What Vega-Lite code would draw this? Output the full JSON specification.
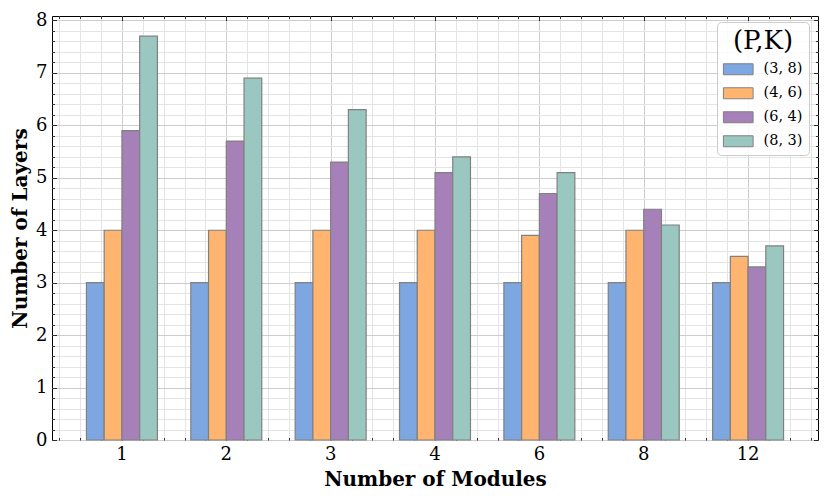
{
  "$schema": "https://vega.github.io/schema/vega-lite/v6.json",
  "width": 766,
  "height": 424,
  "autosize": {"type": "none"},
  "padding": {"left": 52, "top": 16, "right": 12, "bottom": 58},
  "config": {
    "font": "DejaVu Serif",
    "view": {"stroke": "black", "strokeWidth": 1},
    "axis": {"labelFont": "DejaVu Serif", "titleFont": "DejaVu Serif", "labelColor": "black", "titleColor": "black", "tickColor": "black", "tickWidth": 0.8, "gridWidth": 1}
  },
  "data": {
    "values": [
      {"modules": 1, "pk": "(3, 8)", "layers": 3},
      {"modules": 1, "pk": "(4, 6)", "layers": 4},
      {"modules": 1, "pk": "(6, 4)", "layers": 5.9},
      {"modules": 1, "pk": "(8, 3)", "layers": 7.7},
      {"modules": 2, "pk": "(3, 8)", "layers": 3},
      {"modules": 2, "pk": "(4, 6)", "layers": 4},
      {"modules": 2, "pk": "(6, 4)", "layers": 5.7},
      {"modules": 2, "pk": "(8, 3)", "layers": 6.9},
      {"modules": 3, "pk": "(3, 8)", "layers": 3},
      {"modules": 3, "pk": "(4, 6)", "layers": 4},
      {"modules": 3, "pk": "(6, 4)", "layers": 5.3},
      {"modules": 3, "pk": "(8, 3)", "layers": 6.3},
      {"modules": 4, "pk": "(3, 8)", "layers": 3},
      {"modules": 4, "pk": "(4, 6)", "layers": 4},
      {"modules": 4, "pk": "(6, 4)", "layers": 5.1},
      {"modules": 4, "pk": "(8, 3)", "layers": 5.4},
      {"modules": 6, "pk": "(3, 8)", "layers": 3},
      {"modules": 6, "pk": "(4, 6)", "layers": 3.9},
      {"modules": 6, "pk": "(6, 4)", "layers": 4.7},
      {"modules": 6, "pk": "(8, 3)", "layers": 5.1},
      {"modules": 8, "pk": "(3, 8)", "layers": 3},
      {"modules": 8, "pk": "(4, 6)", "layers": 4},
      {"modules": 8, "pk": "(6, 4)", "layers": 4.4},
      {"modules": 8, "pk": "(8, 3)", "layers": 4.1},
      {"modules": 12, "pk": "(3, 8)", "layers": 3},
      {"modules": 12, "pk": "(4, 6)", "layers": 3.5},
      {"modules": 12, "pk": "(6, 4)", "layers": 3.3},
      {"modules": 12, "pk": "(8, 3)", "layers": 3.7}
    ]
  },
  "layer": [
    {
      "mark": {"type": "point", "opacity": 0},
      "encoding": {
        "x": {"datum": 0, "type": "quantitative", "scale": {"domain": [-0.67, 6.67], "nice": false, "zero": false},
          "axis": {"orient": "bottom", "title": null, "labels": false, "domain": false, "ticks": true, "tickSize": -2.5, "grid": true, "gridColor": "#e4e4e4",
            "values": [-0.6,-0.4,-0.2,0.2,0.4,0.6,0.8,1.2,1.4,1.6,1.8,2.2,2.4,2.6,2.8,3.2,3.4,3.6,3.8,4.2,4.4,4.6,4.8,5.2,5.4,5.6,5.8,6.2,6.4,6.6]}},
        "y": {"datum": 0, "type": "quantitative", "scale": {"domain": [0, 8.085], "nice": false},
          "axis": {"orient": "left", "title": null, "labels": false, "domain": false, "ticks": true, "tickSize": -2.5, "grid": true, "gridColor": "#e4e4e4",
            "values": [0.2,0.4,0.6,0.8,1.2,1.4,1.6,1.8,2.2,2.4,2.6,2.8,3.2,3.4,3.6,3.8,4.2,4.4,4.6,4.8,5.2,5.4,5.6,5.8,6.2,6.4,6.6,6.8,7.2,7.4,7.6,7.8]}}
      }
    },
    {
      "mark": {"type": "point", "opacity": 0},
      "encoding": {
        "x": {"datum": 0, "type": "quantitative", "scale": {"domain": [-0.67, 6.67], "nice": false, "zero": false},
          "axis": {"orient": "bottom", "title": null, "labels": false, "domain": false, "ticks": true, "tickSize": -4.5, "grid": true, "gridColor": "#cdcdcd",
            "values": [0,1,2,3,4,5,6]}},
        "y": {"datum": 0, "type": "quantitative", "scale": {"domain": [0, 8.085], "nice": false},
          "axis": {"orient": "left", "title": null, "labels": false, "domain": false, "ticks": true, "tickSize": -4.5, "grid": true, "gridColor": "#cdcdcd",
            "values": [0,1,2,3,4,5,6,7,8]}}
      }
    },
    {
      "mark": {"type": "point", "opacity": 0},
      "encoding": {
        "x": {"datum": 0, "type": "quantitative", "scale": {"domain": [-0.67, 6.67], "nice": false, "zero": false},
          "axis": {"orient": "top", "title": null, "labels": false, "domain": false, "ticks": true, "tickSize": -2.5, "grid": false,
            "values": [-0.6,-0.4,-0.2,0.2,0.4,0.6,0.8,1.2,1.4,1.6,1.8,2.2,2.4,2.6,2.8,3.2,3.4,3.6,3.8,4.2,4.4,4.6,4.8,5.2,5.4,5.6,5.8,6.2,6.4,6.6]}},
        "y": {"datum": 0, "type": "quantitative", "scale": {"domain": [0, 8.085], "nice": false},
          "axis": {"orient": "right", "title": null, "labels": false, "domain": false, "ticks": true, "tickSize": -2.5, "grid": false,
            "values": [0.2,0.4,0.6,0.8,1.2,1.4,1.6,1.8,2.2,2.4,2.6,2.8,3.2,3.4,3.6,3.8,4.2,4.4,4.6,4.8,5.2,5.4,5.6,5.8,6.2,6.4,6.6,6.8,7.2,7.4,7.6,7.8]}}
      }
    },
    {
      "mark": {"type": "point", "opacity": 0},
      "encoding": {
        "x": {"datum": 0, "type": "quantitative", "scale": {"domain": [-0.67, 6.67], "nice": false, "zero": false},
          "axis": {"orient": "top", "title": null, "labels": false, "domain": false, "ticks": true, "tickSize": -4.5, "grid": false,
            "values": [0,1,2,3,4,5,6]}},
        "y": {"datum": 0, "type": "quantitative", "scale": {"domain": [0, 8.085], "nice": false},
          "axis": {"orient": "right", "title": null, "labels": false, "domain": false, "ticks": true, "tickSize": -4.5, "grid": false,
            "values": [0,1,2,3,4,5,6,7,8]}}
      }
    },
    {
      "mark": {"type": "bar", "stroke": "#808080", "strokeWidth": 1.2},
      "encoding": {
        "x": {"field": "modules", "type": "ordinal", "sort": [1,2,3,4,6,8,12],
          "scale": {"paddingInner": 0.32, "paddingOuter": 0.33},
          "axis": {"orient": "bottom", "title": "Number of Modules", "titleFontSize": 20, "titleFontWeight": "bold", "titlePadding": 6,
            "labelFontSize": 18, "labelAngle": 0, "labelPadding": 5, "ticks": false, "domain": false, "grid": false, "bandPosition": 0.5}},
        "xOffset": {"field": "pk", "type": "nominal", "sort": ["(3, 8)", "(4, 6)", "(6, 4)", "(8, 3)"], "scale": {"paddingInner": 0, "paddingOuter": 0}},
        "y": {"field": "layers", "type": "quantitative", "scale": {"domain": [0, 8.085], "nice": false},
          "axis": {"orient": "left", "title": "Number of Layers", "titleFontSize": 20, "titleFontWeight": "bold", "titlePadding": 5,
            "labelFontSize": 18, "labelPadding": 5, "ticks": false, "domain": false, "grid": false, "values": [0,1,2,3,4,5,6,7,8]}},
        "color": {"field": "pk", "type": "nominal", "sort": ["(3, 8)", "(4, 6)", "(6, 4)", "(8, 3)"],
          "scale": {"domain": ["(3, 8)", "(4, 6)", "(6, 4)", "(8, 3)"], "range": ["#7EA6E0", "#FFB570", "#A680B8", "#9AC7BF"]},
          "legend": {"orient": "none", "legendX": 665, "legendY": 6, "title": "(P,K)", "titleFont": "DejaVu Serif", "titleFontSize": 26, "titleFontWeight": "normal", "titleColor": "black", "titleAnchor": "middle", "titlePadding": 8,
            "labelFont": "DejaVu Serif", "labelFontSize": 14.5, "labelColor": "black", "symbolType": "M-2.7,-1H2.7V1H-2.7Z", "symbolSize": 121, "symbolStrokeColor": "#808080", "symbolStrokeWidth": 1, "symbolOpacity": 1, "symbolOffset": 8, "labelOffset": 18, "rowPadding": 8, "padding": 6, "strokeColor": "#cccccc", "fillColor": "rgba(255,255,255,0.85)", "cornerRadius": 4}}
      }
    }
  ],
  "resolve": {"scale": {"x": "independent", "y": "independent"}, "axis": {"x": "independent", "y": "independent"}}
}
